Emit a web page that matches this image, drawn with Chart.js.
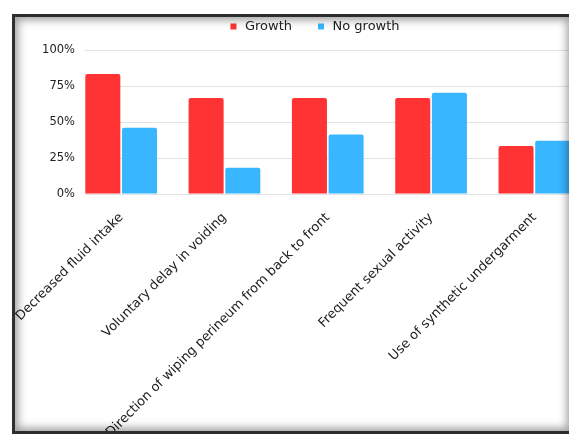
<!DOCTYPE html>
<html>
<head>
<meta charset="utf-8">
<script src="https://cdn.jsdelivr.net/npm/chart.js@4.4.0/dist/chart.umd.min.js"></script>
<style>
  html, body { margin: 0; padding: 0; background: #fff; width: 569px; height: 435px; overflow: hidden; }
  .clip { position: absolute; left: 12px; top: 14px; width: 561px; height: 420px; overflow: hidden; background: #fff; }
  .wrap { position: absolute; left: 0; top: -18px; width: 604px; height: 450px; }
  .frame {
    position: absolute; left: 12px; top: 14px; width: 561px; height: 420px;
    box-sizing: border-box; border: 3px solid #2e2e2e;
    box-shadow: inset 0 0 9px 3px rgba(0, 0, 0, 0.38);
    pointer-events: none; z-index: 2;
  }
</style>
</head>
<body>
<div class="clip">
  <div class="wrap"><canvas id="chart"></canvas></div>
</div>
<div class="frame"></div>
<script>
// Data (percent of each group)
const categories = [
    "Decreased fluid intake",
    "Voluntary delay in voiding",
    "Direction of wiping perineum from back to front",
    "Frequent sexual activity",
    "Use of synthetic undergarment"
];
const growth = [83.3, 66.7, 66.7, 66.7, 33.3];
const noGrowth = [46.0, 18.2, 41.4, 70.3, 36.9];
const yTicks = [0, 25, 50, 75, 100];

const font = "'DejaVu Sans', sans-serif";

// Extra space between legend and plot area
const legendGap = {
    id: "legendGap",
    beforeInit(chart) {
        const fit = chart.legend.fit;
        chart.legend.fit = function () {
            fit.bind(chart.legend)();
            this.height += 7;
        };
    }
};

const ctx = document.getElementById("chart").getContext("2d");
new Chart(ctx, {
    type: "bar",
    data: {
        datasets: [{
            label: "Growth",
            data: growth.map((v, i) => ({ x: i, y: v })),
            backgroundColor: "#ff3333",
            borderRadius: 2
        }, {
            label: "No growth",
            data: noGrowth.map((v, i) => ({ x: i, y: v })),
            backgroundColor: "#38b6ff",
            borderRadius: 2
        }]
    },
    options: {
        responsive: true,
        maintainAspectRatio: false,
        animation: false,
        categoryPercentage: 0.71,
        barPercentage: 0.955,
        layout: { padding: 0 },
        plugins: {
            tooltip: { enabled: false },
            legend: {
                position: "top",
                labels: {
                    usePointStyle: true,
                    pointStyle: "rect",
                    boxWidth: 10,
                    boxHeight: 6,
                    padding: 24,
                    color: "#222",
                    font: { family: font, size: 13 }
                }
            }
        },
        scales: {
            x: {
                type: "linear",
                offset: false,
                bounds: "data",
                min: -0.35,
                max: 4.79,
                grid: { display: false },
                border: { display: false },
                afterBuildTicks: axis => { axis.ticks = categories.map((_, i) => ({ value: i })); },
                afterFit: axis => { axis.height = 252; axis.paddingLeft = 0; axis.paddingRight = 0; },
                ticks: {
                    autoSkip: false,
                    minRotation: 45,
                    maxRotation: 45,
                    padding: 8,
                    color: "#222",
                    font: { family: font, size: 13 },
                    callback: v => categories[v] ?? ""
                }
            },
            y: {
                min: 0,
                max: 100,
                grid: { color: "#e2e2e2", drawTicks: false },
                border: { display: false },
                afterBuildTicks: axis => { axis.ticks = yTicks.map(v => ({ value: v })); },
                afterFit: axis => { axis.width = 73; },
                ticks: {
                    padding: 10,
                    color: "#222",
                    font: { family: font, size: 11.5 },
                    callback: v => v + "%"
                }
            }
        }
    },
    plugins: [legendGap]
});
</script>
</body>
</html>
